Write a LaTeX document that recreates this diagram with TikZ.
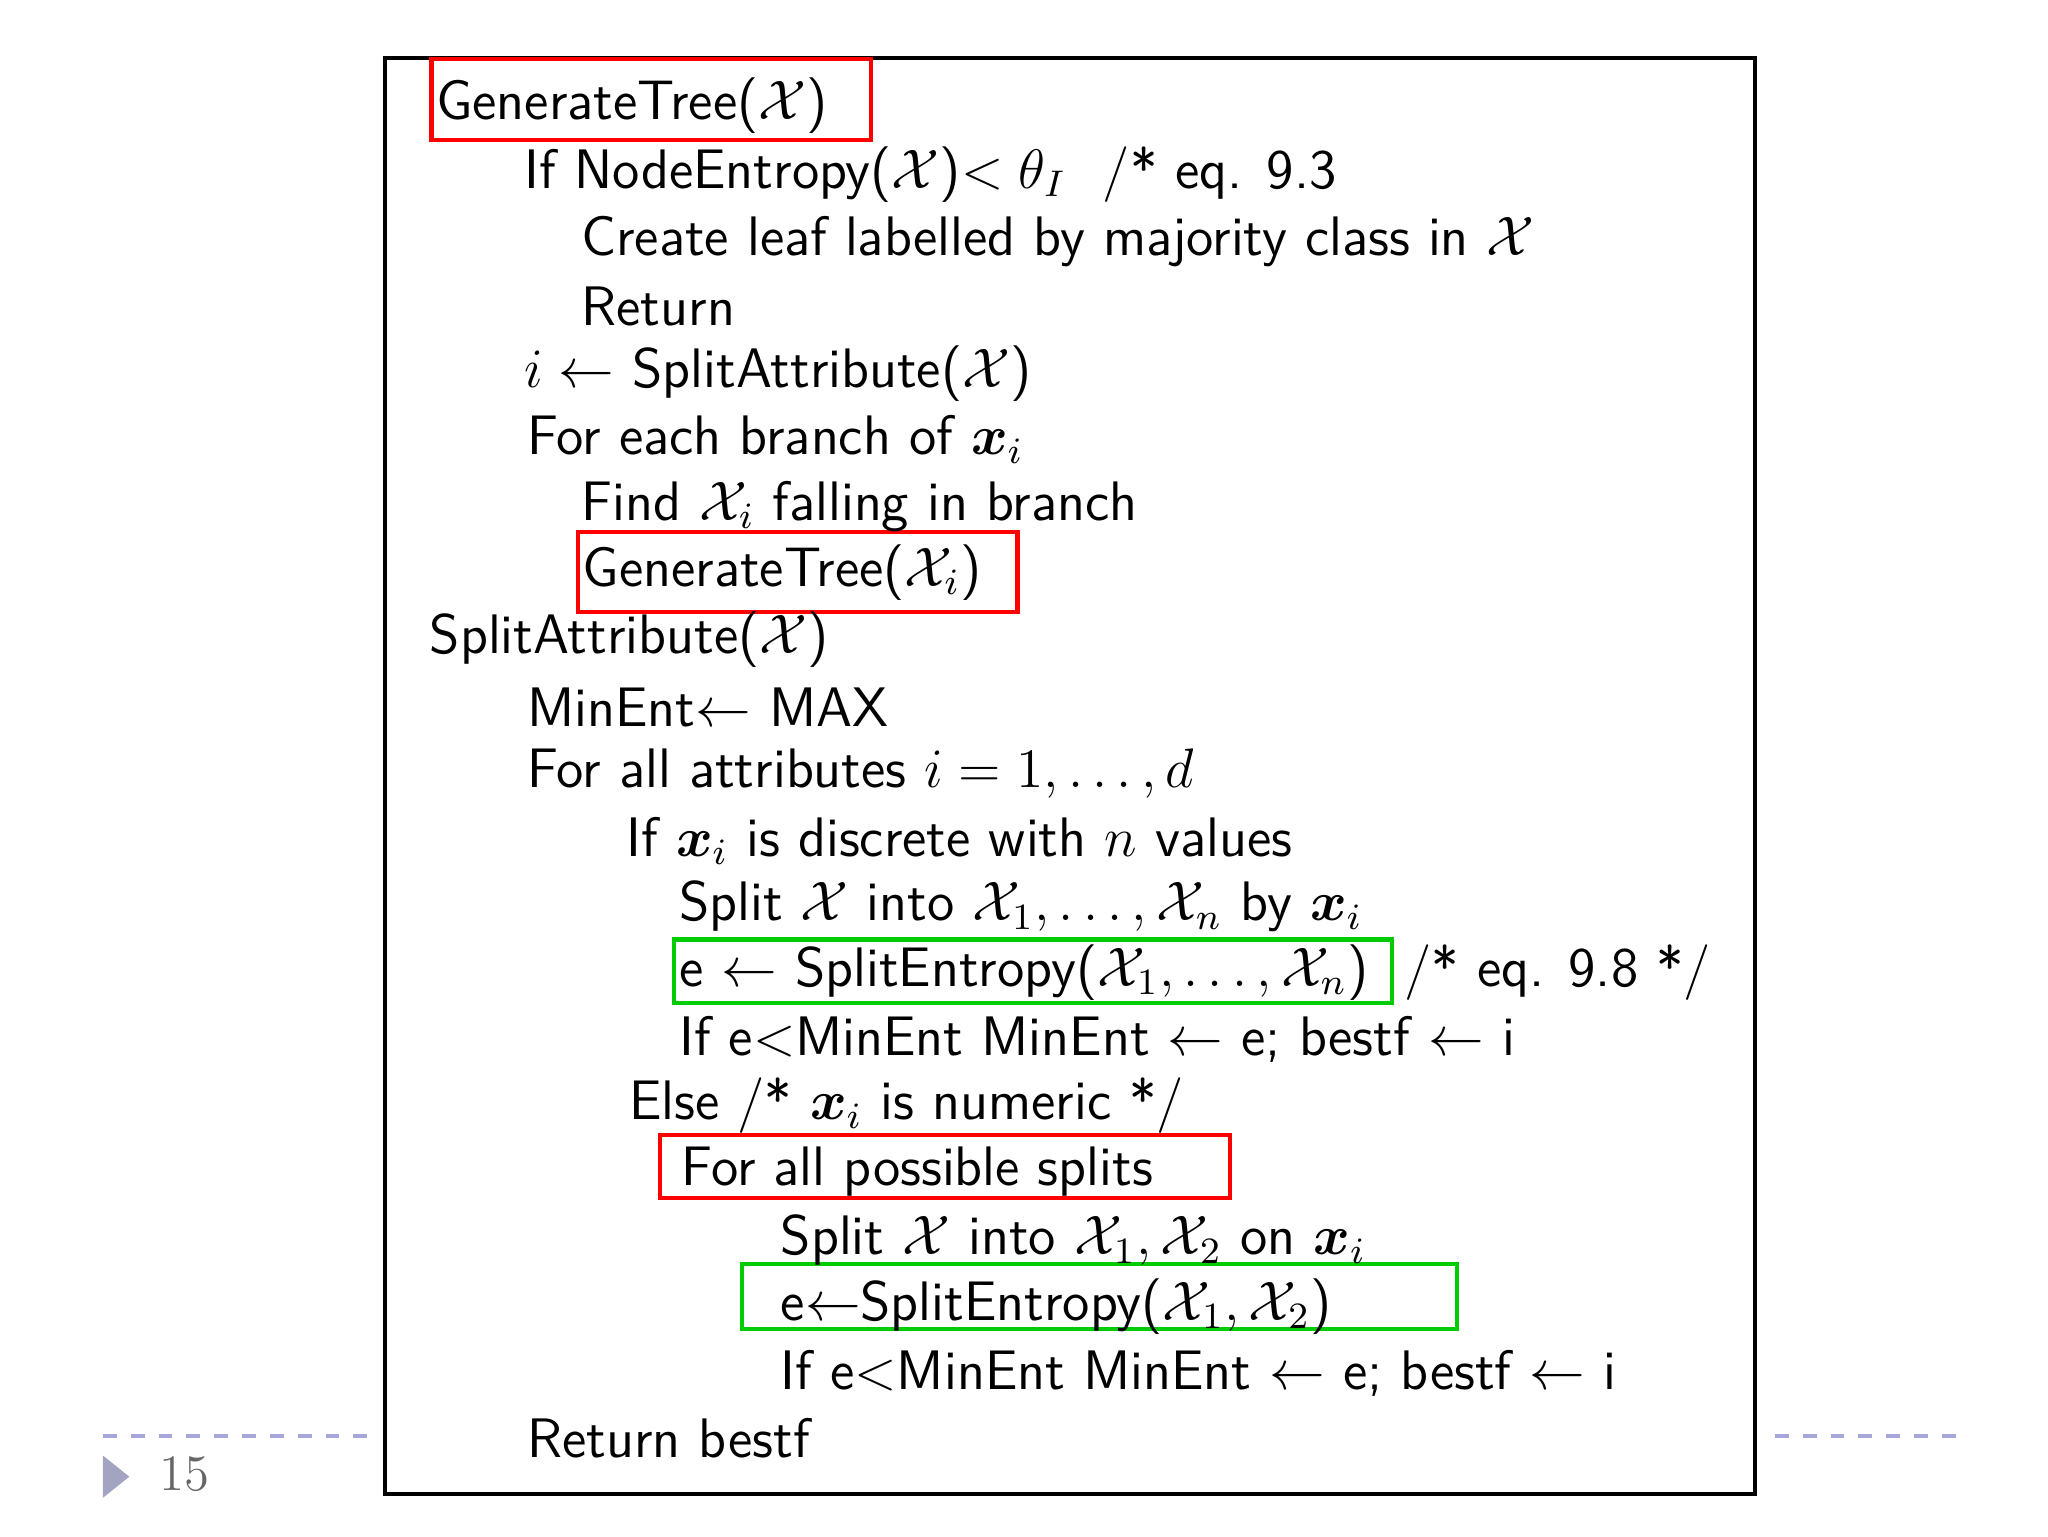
\documentclass[tikz,border=0pt]{standalone}
\usepackage{amsmath,amssymb,bm}
\begin{document}
\begin{tikzpicture}[x=0.1mm,y=-0.1mm,
  ln/.style={anchor=west,inner sep=0pt,font=\sffamily\fontsize{12}{14}\selectfont},
  redbox/.style={draw=red,line width=0.9pt},
  greenbox/.style={draw=green!80!black,line width=0.9pt}]
\useasboundingbox (0,0) rectangle (1552,1164);
\draw[line width=0.8pt] (292,44) rectangle (1330,1132);
\draw[redbox] (327,45) rectangle (660,106);
\draw[redbox] (438,403) rectangle (771,464);
\draw[redbox] (500,860) rectangle (932,908);
\draw[greenbox] (511,712) rectangle (1055,760);
\draw[greenbox] (562,958) rectangle (1104,1007);
\node[ln] (l1) at (330,80) {GenerateTree($\mathcal{X}$)};
\node[ln] (l2) at (397,132) {If NodeEntropy($\mathcal{X}$)$<\theta_I$ \ /* eq. 9.3};
\node[ln] (l3) at (440,183) {Create leaf labelled by majority class in $\mathcal{X}$};
\node[ln] (l4) at (440,232) {Return};
\node[ln] (l5) at (397,283) {$i\leftarrow$ SplitAttribute($\mathcal{X}$)};
\node[ln] (l6) at (399,333) {For each branch of $\bm{x}_i$};
\node[ln] (l7) at (440,384) {Find $\mathcal{X}_i$ falling in branch};
\node[ln] (l8) at (441,434) {GenerateTree($\mathcal{X}_i$)};
\node[ln] (l9) at (325,485) {SplitAttribute($\mathcal{X}$)};
\node[ln] (l10) at (399,536) {MinEnt$\leftarrow$ MAX};
\node[ln] (l11) at (399,586) {For all attributes $i=1,\ldots,d$};
\node[ln] (l12) at (474,637) {If $\bm{x}_i$ is discrete with $n$ values};
\node[ln] (l13) at (514,687) {Split $\mathcal{X}$ into $\mathcal{X}_1,\ldots,\mathcal{X}_n$ by $\bm{x}_i$};
\node[ln] (l14) at (514,737) {e $\leftarrow$ SplitEntropy($\mathcal{X}_1,\ldots,\mathcal{X}_n$) \ /* eq. 9.8 */};
\node[ln] (l15) at (514,788) {If e$<$MinEnt MinEnt $\leftarrow$ e; bestf $\leftarrow$ i};
\node[ln] (l16) at (476,838) {Else /* $\bm{x}_i$ is numeric */};
\node[ln] (l17) at (516,888) {For all possible splits};
\node[ln] (l18) at (591,940) {Split $\mathcal{X}$ into $\mathcal{X}_1,\mathcal{X}_2$ on $\bm{x}_i$};
\node[ln] (l19) at (591,990) {e$\leftarrow$SplitEntropy($\mathcal{X}_1,\mathcal{X}_2$)};
\node[ln] (l20) at (591,1041) {If e$<$MinEnt MinEnt $\leftarrow$ e; bestf $\leftarrow$ i};
\node[ln] (l21) at (399,1090) {Return bestf};
\draw[dashed,color=gray!60!blue!50,line width=0.8pt] (78,1088) -- (278,1088);
\draw[dashed,color=gray!60!blue!50,line width=0.8pt] (1345,1088) -- (1490,1088);
\fill[color=blue!20!gray!60] (78,1103) -- (98,1119) -- (78,1135) -- cycle;
\node[anchor=west,inner sep=0pt,font=\fontsize{11}{13}\selectfont,text=gray!80!black] (pg) at (120,1117) {15};
\end{tikzpicture}
\end{document}
